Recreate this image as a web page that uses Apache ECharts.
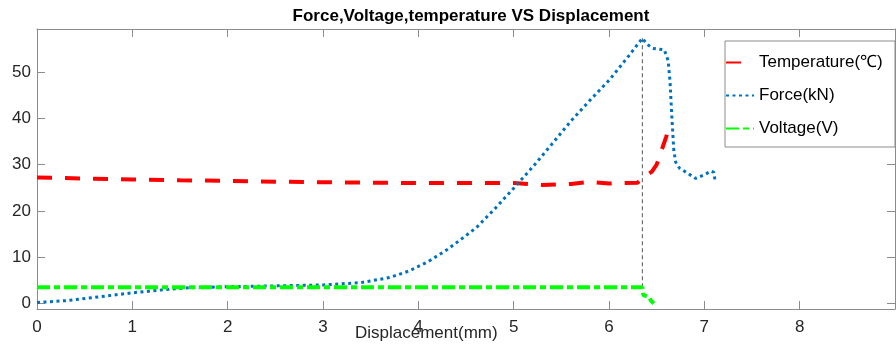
<!DOCTYPE html>
<html>
<head>
<meta charset="utf-8">
<script src="https://cdn.jsdelivr.net/npm/echarts@6/dist/echarts.min.js"></script>
<style>
  html, body { margin: 0; padding: 0; background: #fff; }
  #chart { width: 896px; height: 351px; }
</style>
</head>
<body>
<div id="chart"></div>
<script>
// values
const tempX = [0, 0.5, 1.0, 1.5, 2.0, 2.5, 3.0, 3.5, 4.0, 4.5, 5.0, 5.3, 5.6, 5.8, 6.0, 6.3, 6.35, 6.4, 6.45, 6.5, 6.55, 6.6, 6.64];
const tempY = [27.2, 27.0, 26.8, 26.6, 26.5, 26.3, 26.2, 26.1, 26.0, 26.0, 26.0, 25.6, 25.8, 26.3, 25.9, 26.1, 27.0, 27.8, 28.5, 30.0, 33.0, 36.0, 38.8];

const forceX = [0, 0.3, 0.6, 1.0, 1.3, 1.6, 2.0, 2.5, 3.0, 3.4, 3.7, 3.9, 4.1, 4.3, 4.45, 4.61, 4.8, 5.0, 5.2, 5.4, 5.6, 5.8, 6.0, 6.2, 6.35, 6.4, 6.46, 6.58, 6.62, 6.64, 6.66, 6.68, 6.7, 6.74, 6.82, 6.91, 7.0, 7.07, 7.1, 7.11];
const forceY = [0.2, 0.6, 1.3, 2.3, 2.9, 3.4, 3.6, 3.8, 4.0, 4.5, 5.6, 7.0, 9.0, 11.6, 13.9, 16.4, 20.4, 24.9, 29.5, 34.4, 39.4, 43.9, 48.2, 53.3, 57.3, 56.0, 55.1, 54.8, 52.5, 48.0, 40.0, 33.0, 30.5, 29.2, 28.2, 27.0, 27.8, 28.6, 28.3, 26.8];

const voltX = [0, 1, 2, 3, 4, 5, 6, 6.35, 6.36, 6.42, 6.44, 6.47];
const voltY = [3.5, 3.5, 3.5, 3.5, 3.5, 3.5, 3.5, 3.5, 1.8, 1.4, 0.6, 0.0];

const peakX = [6.35, 6.35];
const peakY = [3.5, 57.3];

const names = ['Temperature(℃)', 'Force(kN)', 'Voltage(V)'];

const pairs = (xs, ys) => xs.map((x, i) => [x, ys[i]]);

const font = "'Liberation Sans', Arial, sans-serif";
const axisColor = '#8c8c8c';
const labelColor = '#262626';

const frameAxis = (extra) => Object.assign({
  type: 'value',
  axisLine: { show: true, onZero: false, lineStyle: { color: axisColor } },
  axisTick: { show: true, inside: true, length: 8, lineStyle: { color: axisColor } },
  splitLine: { show: false },
}, extra);

const chart = echarts.init(document.getElementById('chart'));

const option = {
  animation: false,
  backgroundColor: '#fff',
  title: {
    text: 'Force,Voltage,temperature VS Displacement',
    left: 466,
    textAlign: 'center',
    top: 3,
    textStyle: { fontFamily: font, fontSize: 17, fontWeight: 'bold', color: '#000' },
  },
  grid: { left: 37, right: 1, top: 29, bottom: 42 },
  legend: {
    data: names,
    orient: 'vertical',
    left: 725,
    top: 41,
    padding: [13, 10, 10, 0],
    itemGap: 16,
    itemWidth: 28,
    itemHeight: 14,
    itemStyle: { opacity: 0 },
    textStyle: { fontFamily: font, fontSize: 17, color: '#000' },
    z: 10,
  },
  graphic: [
    {
      type: 'rect',
      shape: { x: 725, y: 41, width: 170, height: 106 },
      style: { fill: '#fff', stroke: axisColor, lineWidth: 1 },
      z: 9,
    },
    {
      type: 'text',
      left: 355,
      top: 325,
      style: { text: 'Displacement(mm)', font: '17px ' + font, fill: labelColor },
    },
  ],
  xAxis: [
    frameAxis({
      min: 0,
      max: 9,
      interval: 1,
      axisLabel: { color: labelColor, fontFamily: font, fontSize: 17, margin: 10, showMaxLabel: false },
    }),
    frameAxis({
      position: 'top',
      min: 0,
      max: 9,
      interval: 1,
      axisLabel: { show: false },
    }),
  ],
  yAxis: [
    frameAxis({
      min: -1.2,
      max: 59.3,
      splitNumber: 6,
      axisLabel: { color: labelColor, fontFamily: font, fontSize: 17, margin: 6, showMinLabel: false, showMaxLabel: false },
    }),
    frameAxis({
      position: 'right',
      min: -1.2,
      max: 59.3,
      splitNumber: 6,
      axisLabel: { show: false },
    }),
  ],
  series: [
    {
      name: '',
      type: 'line',
      data: pairs(peakX, peakY),
      symbol: 'none',
      silent: true,
      lineStyle: { color: '#555', width: 1, type: [4, 3] },
    },
    {
      name: names[0],
      type: 'line',
      data: pairs(tempX, tempY),
      symbol: 'none',
      lineStyle: { color: '#ff0000', width: 4, type: [15, 13] },
      itemStyle: { color: '#ff0000' },
    },
    {
      name: names[1],
      type: 'line',
      data: pairs(forceX, forceY),
      symbol: 'none',
      lineStyle: { color: '#0072bd', width: 3, type: [3, 3.5] },
      itemStyle: { color: '#0072bd' },
    },
    {
      name: names[2],
      type: 'line',
      data: pairs(voltX, voltY),
      symbol: 'none',
      lineStyle: { color: '#00ff00', width: 4, type: [13, 4, 6, 4] },
      itemStyle: { color: '#00ff00' },
    },
  ],
};

chart.setOption(option);
</script>
</body>
</html>
